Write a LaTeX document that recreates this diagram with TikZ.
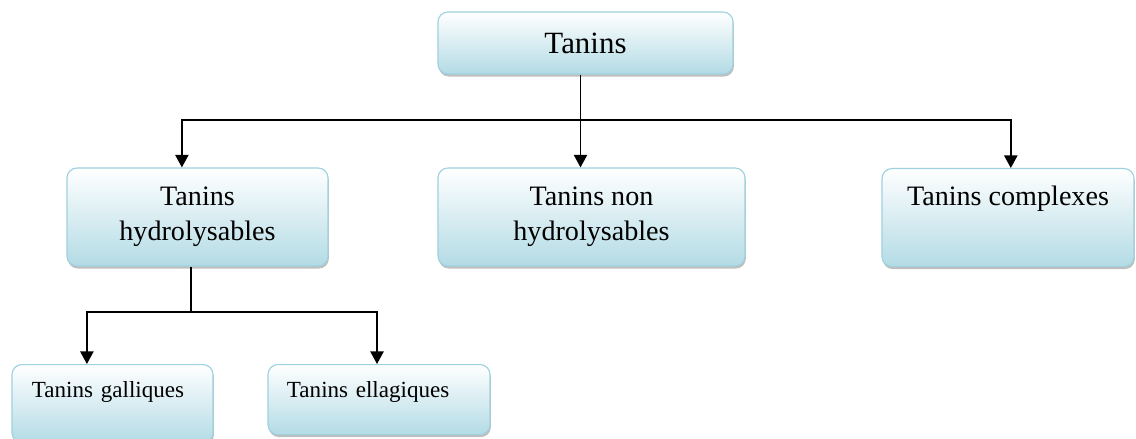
\documentclass[tikz,border=0pt]{standalone}
\usepackage{fontspec}
\setmainfont{Liberation Serif}
\usetikzlibrary{arrows.meta}
\usetikzlibrary{shadows}

\definecolor{boxline}{HTML}{9FD2E0}
\definecolor{boxfill}{HTML}{B3DBE5}

\begin{document}
\begin{tikzpicture}[x=0.025cm, y=-0.025cm]
        \tikzset{
          >={Triangle[width=9.5pt,length=9pt]},
          link/.style={line width=1.1pt},
          tanbox/.style={
            draw=boxline,
            line width=0.8pt,
            rounded corners=0.25cm,
            top color=white,
            bottom color=boxfill,
            drop shadow={shadow xshift=0.6pt, shadow yshift=-1.8pt, opacity=0.5},
            inner sep=0pt,
            align=center,
          },
          midtext/.style={font=\fontsize{20}{25}\selectfont},
          leaftext/.style={font=\fontsize{16.4}{20}\selectfont, align=left},
        }
        \useasboundingbox (0,0) rectangle (1136,439);

        \node[tanbox, minimum width=7.375cm, minimum height=1.55cm,
              font=\fontsize{22}{26}\selectfont] (tanins) at (585.5,43) {Tanins};
        \node[tanbox, midtext, minimum width=6.525cm, minimum height=2.45cm]
              (hydro) at (197.5,217) {Tanins\\hydrolysables};
        \node[tanbox, midtext, minimum width=7.675cm, minimum height=2.45cm]
              (nonhydro) at (591.5,217) {Tanins non\\hydrolysables};
        \node[tanbox, midtext, minimum width=6.3cm, text height=0.925cm, text depth=1.525cm,
              anchor=north] (complexes) at (1008,168) {Tanins complexes};
        \node[tanbox, leaftext, text width=4.025cm, inner xsep=0.5cm,
              text height=0.825cm, text depth=1.125cm, anchor=north]
              (galliques) at (112.5,364) {Tanins galliques};
        \node[tanbox, leaftext, text width=4.6cm, inner xsep=0.475cm,
              text height=0.825cm, text depth=0.925cm, anchor=north]
              (ellagiques) at (379,364) {Tanins ellagiques};

        % upper level
        \coordinate (busA) at (580.5,120);
        \draw[link, ->] (tanins.south -| busA) -- (busA |- nonhydro.north);
        \draw[link, ->] (busA) -| ([xshift=-0.39cm]hydro.north);
        \draw[link, ->] (busA) -| ([xshift=0.07cm]complexes.north);

        % lower level
        \coordinate (busB) at (191,312);
        \draw[link] (hydro.south -| busB) -- (busB);
        \draw[link, ->] (busB) -| ([xshift=-0.64cm]galliques.north);
        \draw[link, ->] (busB) -| ([xshift=-0.05cm]ellagiques.north);
\end{tikzpicture}
\end{document}
